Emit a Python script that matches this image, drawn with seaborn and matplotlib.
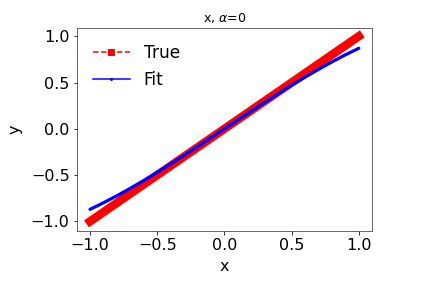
import numpy as np
import pandas as pd
import matplotlib
matplotlib.use("Agg")
import matplotlib.pyplot as plt
import seaborn as sns
from matplotlib.lines import Line2D

# values
x_vals = [-1.0, -0.9, -0.8, -0.7, -0.6, -0.5, -0.4, -0.3, -0.2, -0.1, 0.0,
          0.1, 0.2, 0.3, 0.4, 0.5, 0.6, 0.7, 0.8, 0.9, 1.0]
true_vals = [-1.0, -0.9, -0.8, -0.7, -0.6, -0.5, -0.4, -0.3, -0.2, -0.1, 0.0,
             0.1, 0.2, 0.3, 0.4, 0.5, 0.6, 0.7, 0.8, 0.9, 1.0]
fit_vals = [-0.870, -0.799, -0.723, -0.642, -0.558, -0.470, -0.379, -0.286, -0.192, -0.096, 0.0,
            0.096, 0.192, 0.286, 0.379, 0.470, 0.558, 0.642, 0.723, 0.799, 0.870]

title = r"x, $\alpha$=0"
x_ticks = [-1.0, -0.5, 0.0, 0.5, 1.0]
y_ticks = [-1.0, -0.5, 0.0, 0.5, 1.0]

df = pd.DataFrame({"x": x_vals, "true": true_vals, "fit": fit_vals})

fig = plt.figure(figsize=(423 / 72, 282 / 72), dpi=72)
ax = fig.add_axes([0.181, 0.182, 0.699, 0.719])

# true series: dense square markers in the original render as a thick band
sns.lineplot(data=df, x="x", y="true", ax=ax, color="red", linewidth=8.5,
             sort=False, estimator=None)
ax.lines[-1].set_solid_capstyle("projecting")
sns.lineplot(data=df, x="x", y="fit", ax=ax, color="blue", linewidth=3.2,
             sort=False, estimator=None)
ax.lines[-1].set_solid_capstyle("round")

ax.set_xlim(-1.1, 1.1)
ax.set_ylim(-1.1, 1.09)
ax.set_xticks(x_ticks)
ax.set_yticks(y_ticks)
ax.tick_params(labelsize=16, length=3.5, width=0.8)
ax.set_xlabel("x", fontsize=16, labelpad=6)
ax.set_ylabel("y", fontsize=16, labelpad=8)
ax.set_title(title, fontsize=12.5)
for s in ax.spines.values():
    s.set_linewidth(0.8)
    s.set_color("#444444")

handles = [
    Line2D([], [], color="red", linestyle="--", marker="s", markersize=6, linewidth=1.5),
    Line2D([], [], color="blue", linestyle="-", marker=".", markersize=4, linewidth=1.5),
]
ax.legend(handles, ["True", "Fit"], loc="upper left", frameon=False, fontsize=17,
          handlelength=2.2, borderaxespad=0.55, labelspacing=0.5)

fig.savefig("out.png", dpi=72)
